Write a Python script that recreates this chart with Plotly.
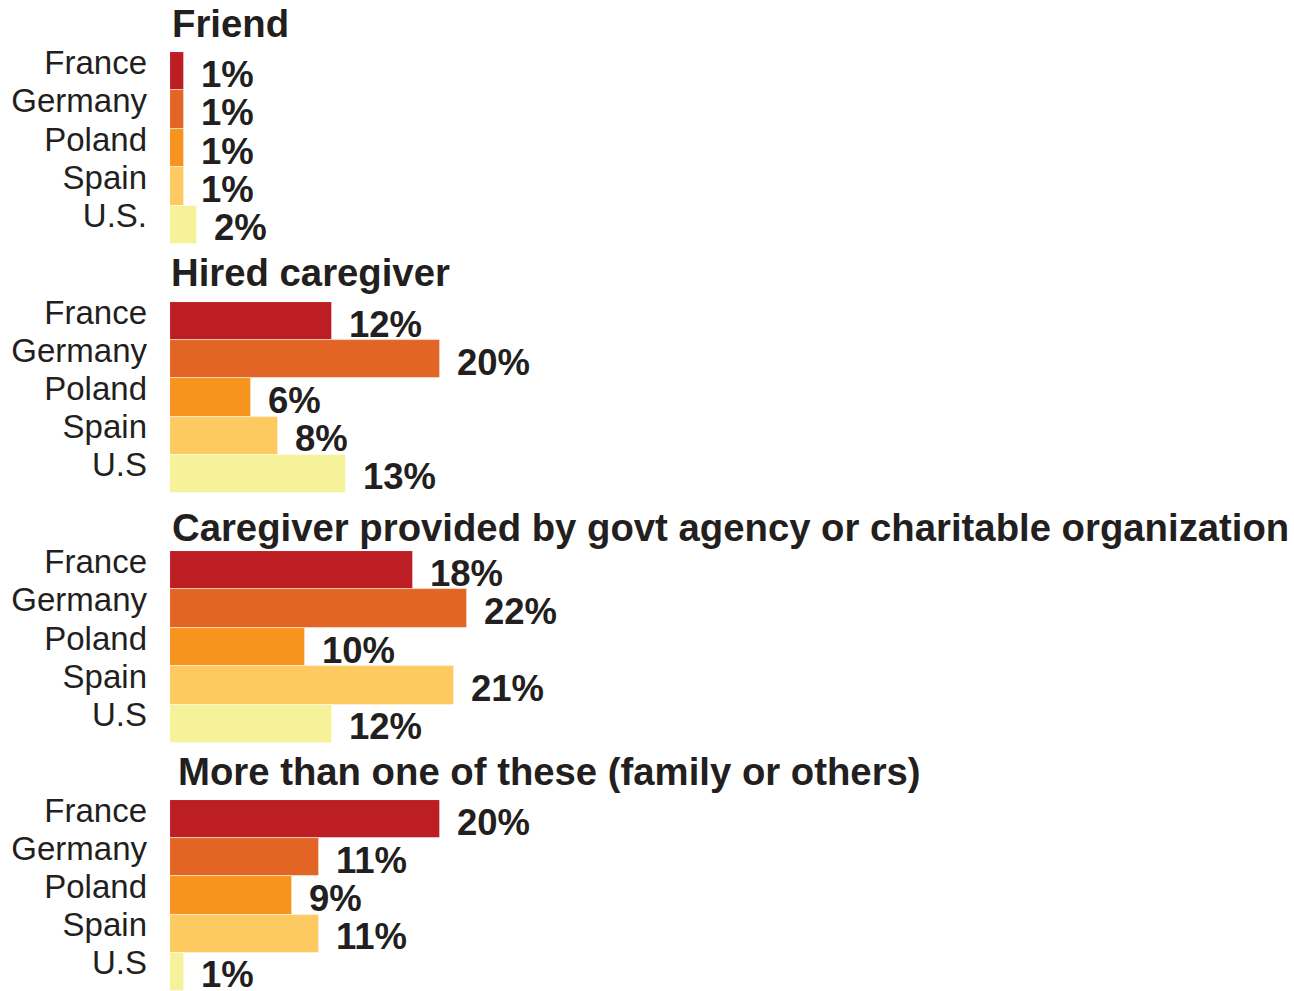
import plotly.graph_objects as go

# Survey shares (%) by country for each type of caregiver
countries = ["France", "Germany", "Poland", "Spain", "U.S."]
countries_alt = ["France", "Germany", "Poland", "Spain", "U.S"]

panel_titles = [
    "Friend",
    "Hired caregiver",
    "Caregiver provided by govt agency or charitable organization",
    "More than one of these (family or others)",
]
friend = [1, 1, 1, 1, 2]
hired = [12, 20, 6, 8, 13]
govt = [18, 22, 10, 21, 12]
more_than_one = [20, 11, 9, 11, 1]

panel_values = [friend, hired, govt, more_than_one]
panel_labels = [countries, countries_alt, countries_alt, countries_alt]

bar_colors = ["#BD1E24", "#E26526", "#F7941E", "#FDC961", "#F6F299"]
text_color = "#231F20"
font_family = "Liberation Sans, Arial, Helvetica, sans-serif"

W, H = 1294, 991
# vertical pixel extents of each panel's bar block (top, bottom)
panel_px = [(52, 244), (302, 493), (551, 743), (800, 991)]
title_gap = [28, 30, 24, 29]
title_dx = [0, -1, 0, 6]

fig = go.Figure()
annotations = []
layout_axes = {}

for i, (vals, labels) in enumerate(zip(panel_values, panel_labels)):
    n = i + 1
    xa = "x" if n == 1 else f"x{n}"
    ya = "y" if n == 1 else f"y{n}"
    fig.add_trace(go.Bar(
        x=vals, y=labels, orientation="h",
        xaxis=xa, yaxis=ya,
        marker=dict(color=bar_colors, line=dict(color="rgba(255,255,255,0.6)", width=0.8)),
        showlegend=False, hoverinfo="skip",
    ))
    top, bot = panel_px[i]
    layout_axes[f"xaxis{'' if n == 1 else n}"] = dict(
        domain=[0, 1], range=[0, (W - 170) / 13.5], visible=False,
        anchor=ya, fixedrange=True, automargin=False,
    )
    layout_axes[f"yaxis{'' if n == 1 else n}"] = dict(
        domain=[1 - bot / H, 1 - top / H], type="category",
        categoryorder="array", categoryarray=labels,
        tickmode="array", tickvals=labels, ticktext=labels,
        range=[4.5, -0.5], anchor=xa, automargin=False, fixedrange=True,
        showgrid=False, zeroline=False, showline=False, ticks="",
        ticklabelstandoff=22, ticklabelshift=9,
        tickfont=dict(size=33, color=text_color, family=font_family),
    )
    # value labels next to each bar
    for v, lab in zip(vals, labels):
        annotations.append(dict(
            x=v, y=lab, xref=xa, yref=ya, text=f"{v}%",
            xanchor="left", yanchor="middle", xshift=15, yshift=-3,
            showarrow=False,
            font=dict(size=36.5, color=text_color, family=font_family, weight="bold"),
        ))
    # panel title
    annotations.append(dict(
        x=0, y=1, xref=f"{xa} domain", yref=f"{ya} domain",
        text=f"<b>{panel_titles[i]}</b>", xanchor="left", yanchor="middle",
        xshift=title_dx[i], yshift=title_gap[i], showarrow=False,
        font=dict(size=38.3, color=text_color, family=font_family),
    ))

fig.update_layout(
    width=W, height=H,
    margin=dict(l=170, r=0, t=0, b=0, autoexpand=False),
    paper_bgcolor="white", plot_bgcolor="white",
    bargap=0,
    annotations=annotations,
    **layout_axes,
)

fig.write_html("out.html", config={"displayModeBar": False})
